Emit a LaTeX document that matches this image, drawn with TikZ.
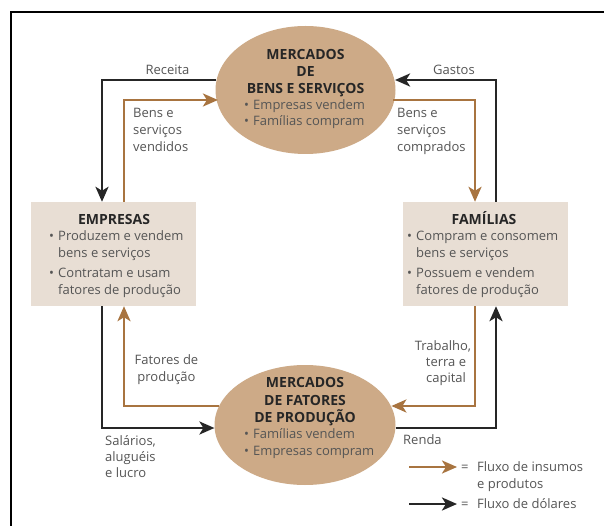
\documentclass[tikz,border=0pt]{standalone}
\usepackage{fontspec}
\setmainfont{Open Sans}
\usetikzlibrary{arrows.meta,shapes.geometric}
\definecolor{mktan}{HTML}{CDAA87}
\definecolor{boxfill}{HTML}{E8DED4}
\definecolor{flowbrown}{HTML}{A87440}
\definecolor{txtgray}{HTML}{555555}
\definecolor{ttl}{HTML}{262626}
\begin{document}
\begin{tikzpicture}[x=1pt,y=-1pt,
  market/.style={ellipse, fill=mktan, inner sep=0pt},
  agent/.style={rectangle, fill=boxfill, inner sep=0pt, minimum width=165pt, minimum height=104pt},
  money/.style={line width=2.9pt, draw=ttl},
  goods/.style={line width=2.5pt, draw=flowbrown},
  tip/.style={-{Stealth[length=15pt,width=13pt,inset=4pt]}},
  ttext/.style={font=\fontsize{14}{17}\selectfont\bfseries, text=ttl, inner sep=0pt, anchor=base},
  btext/.style={font=\fontsize{13}{17}\selectfont, text=txtgray, inner sep=0pt, anchor=base west},
  ctext/.style={font=\fontsize{13}{17}\selectfont, text=txtgray, inner sep=0pt, anchor=base},
]
\useasboundingbox (0,0) rectangle (604,526);
\fill[white] (0,0) rectangle (604,526);
\draw[line width=2pt] (11,526) -- (11,12.5) -- (604,12.5);

% shapes
\node[market, minimum width=180pt, minimum height=128pt] (top) at (305.5,90) {};
\node[market, minimum width=181pt, minimum height=120pt] (bot) at (305,425) {};
\node[agent] (emp) at (113,254) {};
\node[agent] (fam) at (485,254) {};

% corners
\coordinate (c1) at (102,80);
\coordinate (c2) at (124,100);
\coordinate (c3) at (496,80);
\coordinate (c4) at (475,100);
\coordinate (c5) at (102,428);
\coordinate (c6) at (124,406);
\coordinate (c7) at (496,428);
\coordinate (c8) at (475,406);

% flows
\draw[money,tip] (top.175 |- c1) -- (c1) -- (c1 |- emp.north);
\draw[goods,tip] (c2 |- emp.north) -- (c2) -- (top.190 |- c2);
\draw[goods,tip] (top.350 |- c4) -- (c4) -- (c4 |- fam.north);
\draw[money,tip] (c3 |- fam.north) -- (c3) -- (top.5 |- c3);
\draw[money,tip] (c5 |- emp.south) -- (c5) -- (bot.182 |- c5);
\draw[goods,tip] (bot.168 |- c6) -- (c6) -- (c6 |- emp.south);
\draw[money,tip] (bot.358 |- c7) -- (c7) -- (c7 |- fam.south);
\draw[goods,tip] (c8 |- fam.south) -- (c8) -- (bot.12 |- c8);

% top market text
\node[ttext] (t1) at (305.5,60) {MERCADOS};
\node[ttext] (t2) at (305.5,77) {DE};
\node[ttext] (t3) at (305.5,94) {BENS E SERVIÇOS};
\node[btext] (t4) at (244,110) {•};
\node[btext] (t4b) at (253,110) {Empresas vendem};
\node[btext] (t5) at (244,126) {•};
\node[btext] (t5b) at (253,126) {Famílias compram};

% bottom market text
\node[ttext] (b1) at (305,387) {MERCADOS};
\node[ttext] (b2) at (305,405) {DE FATORES};
\node[ttext] (b3) at (305,422) {DE PRODUÇÃO};
\node[btext] (b4) at (244,438) {•};
\node[btext] (b4b) at (253,438) {Famílias vendem};
\node[btext] (b5) at (244,455) {•};
\node[btext] (b5b) at (253,455) {Empresas compram};

% empresas
\node[ttext] (e1) at (114,225) {EMPRESAS};
\node[btext] (e2) at (49,241) {•};
\node[btext] (e3) at (58,241) {Produzem e vendem};
\node[btext] (e4) at (58,258) {bens e serviços};
\node[btext] (e5) at (49,277) {•};
\node[btext] (e6) at (58,277) {Contratam e usam};
\node[btext] (e7) at (58,294) {fatores de produção};

% familias
\node[ttext] (f1) at (484,225) {FAMÍLIAS};
\node[btext] (f2) at (407,241) {•};
\node[btext] (f3) at (416,241) {Compram e consomem};
\node[btext] (f4) at (416,258) {bens e serviços};
\node[btext] (f5) at (407,277) {•};
\node[btext] (f6) at (416,277) {Possuem e vendem};
\node[btext] (f7) at (416,294) {fatores de produção};

% flow labels
\node[ctext] (l1) at (167.5,75) {Receita};
\node[ctext] (l2) at (454,75) {Gastos};
\node[btext] (l3) at (133,118) {Bens e};
\node[btext] (l4) at (133,135) {serviços};
\node[btext] (l5) at (133,152) {vendidos};
\node[btext] (l6) at (397,118) {Bens e};
\node[btext] (l7) at (397,135) {serviços};
\node[btext] (l8) at (397,152) {comprados};
\node[ctext] (l9) at (166.5,364) {Fatores de};
\node[ctext] (l10) at (166.5,381) {produção};
\node[ctext] (l11) at (443,350) {Trabalho,};
\node[ctext] (l12) at (446,366) {terra e};
\node[ctext] (l13) at (446,382) {capital};
\node[btext] (l14) at (105,445) {Salários,};
\node[btext] (l15) at (105,461) {aluguéis};
\node[btext] (l16) at (105,477) {e lucro};
\node[btext] (l17) at (403,444) {Renda};

% legend
\coordinate (g1) at (409,467);
\coordinate (g2) at (457,467);
\coordinate (g3) at (409,504);
\coordinate (g4) at (457,504);
\draw[goods,tip] (g1) -- (g2);
\draw[money,tip] (g3) -- (g4);
\node[btext] (k1) at (461,471) {=};
\node[btext] (k2) at (477,471) {Fluxo de insumos};
\node[btext] (k3) at (477,488) {e produtos};
\node[btext] (k4) at (461,508) {=};
\node[btext] (k5) at (477,508) {Fluxo de dólares};
\end{tikzpicture}
\end{document}
